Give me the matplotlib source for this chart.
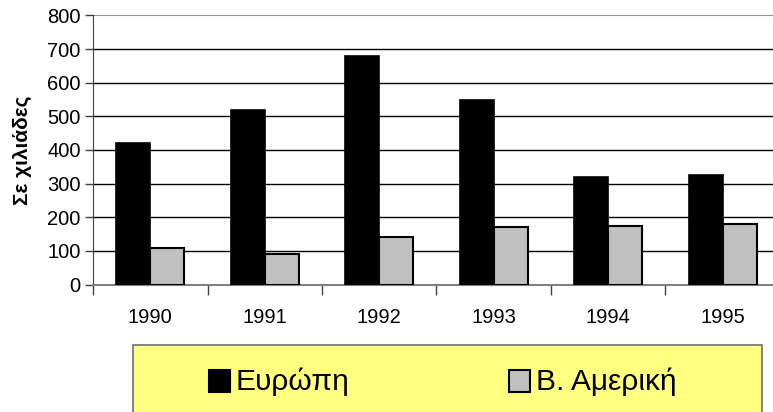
import numpy as np
import matplotlib.pyplot as plt
from matplotlib.patches import Rectangle

plt.rcParams['font.family'] = ['Liberation Sans', 'DejaVu Sans']

years = ['1990', '1991', '1992', '1993', '1994', '1995']
europe = [420, 520, 680, 550, 320, 325]
america = [110, 90, 140, 170, 175, 180]
series_names = ['Ευρώπη', 'Β. Αμερική']
series_colors = ['black', '#c0c0c0']

W, H = 773, 412
fig = plt.figure(figsize=(W / 100, H / 100), dpi=100)
ax = fig.add_axes([93 / W, 1 - 284.5 / H, (780 - 93) / W, (284.5 - 15.5) / H])

x = np.arange(len(years))
bw = 0.297
ax.bar(x - bw / 2, europe, bw, color=series_colors[0], edgecolor='black', linewidth=1.2, zorder=3)
ax.bar(x + bw / 2, america, bw, color=series_colors[1], edgecolor='black', linewidth=1.5, zorder=3)

ax.set_xlim(-0.5, len(years) - 0.5)
ax.set_ylim(0, 800)
ax.set_yticks(range(0, 801, 100))
ax.yaxis.grid(True, color='black', linewidth=1.0, zorder=0)
ax.set_axisbelow(True)

ax.set_xticks(np.arange(-0.5, len(years), 1.0))
ax.set_xticklabels([])
ax.set_xticks(x, minor=True)
ax.set_xticklabels(years, minor=True)
ax.tick_params(axis='x', which='major', direction='out', length=7, width=1, color='#404040')
ax.tick_params(axis='x', which='minor', length=0, pad=17, labelsize=14.5)
ax.tick_params(axis='y', direction='out', length=6, width=1, color='#404040', labelsize=14.5, pad=3)

for s in ['top', 'right']:
    ax.spines[s].set_visible(False)
ax.spines['left'].set_color('#404040')
ax.spines['bottom'].set_color('#808080')
ax.spines['bottom'].set_linewidth(1.5)
ax.get_ygridlines()[-1].set_color('#909090')
ax.get_ygridlines()[-1].set_linewidth(1.5)

ax.set_ylabel('Σε χιλιάδες', fontsize=15, fontweight='bold', labelpad=11)

# legend box, drawn in pixel positions of the figure
def px(x0, y0, w, h):
    return (x0 / W, 1 - (y0 + h) / H), w / W, h / H

xy, w, h = px(133, 345, 629, 80)
fig.patches.append(Rectangle(xy, w, h, transform=fig.transFigure, facecolor='#ffff80',
                             edgecolor='#707070', linewidth=1.2, zorder=0))
for i, (name, col) in enumerate(zip(series_names, series_colors)):
    x0 = 209 + 300 * i
    xy, w, h = px(x0, 370, 21, 22)
    fig.patches.append(Rectangle(xy, w, h, transform=fig.transFigure, facecolor=col,
                                 edgecolor='black', linewidth=1.5, zorder=1))
    fig.text((x0 + 27) / W, 1 - 381.5 / H, name, fontsize=21.5, ha='left', va='center')

fig.savefig('out.png', dpi=100)
